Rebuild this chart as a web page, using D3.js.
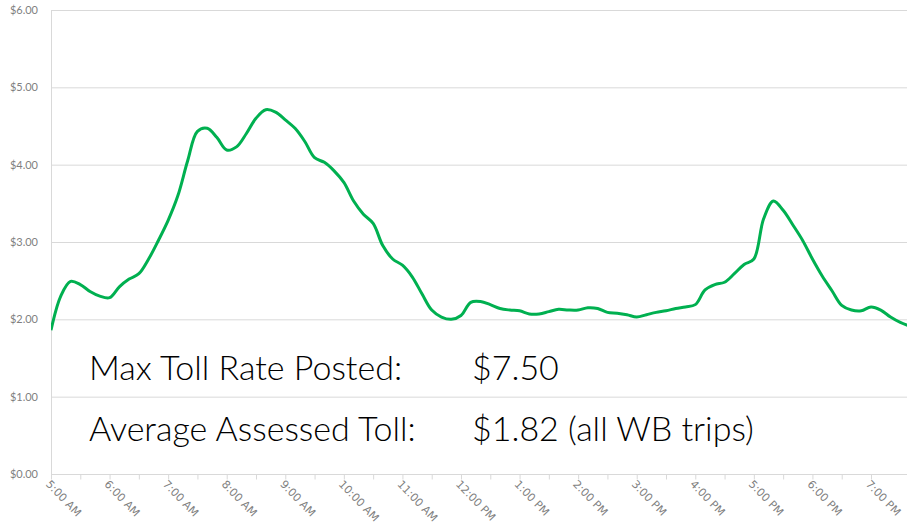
<!DOCTYPE html>
<html>
<head>
<meta charset="utf-8">
<script src="https://cdn.jsdelivr.net/npm/d3@7"></script>
<style>
    html, body { margin: 0; padding: 0; background: #fff; }
    svg { display: block; }
</style>
</head>
<body>
<div id="chart"></div>
<script>
(function () {

const [WIDTH, HEIGHT] = [907, 529];

const MARGIN = { top: 10, right: 0, bottom: 55, left: 51 };

// toll samples, every 10 minutes starting 5:00 AM
const START_TIME = '05:00';
const STEP_MINUTES = 10;
const tollValues = [
    1.86, 2.30, 2.49, 2.45, 2.36, 2.30, 2.28, 2.42, 2.52, 2.59,
    2.78, 3.02, 3.28, 3.60, 4.05, 4.43, 4.47, 4.35, 4.19, 4.23,
    4.40, 4.60, 4.71, 4.68, 4.58, 4.47, 4.30, 4.09, 4.03, 3.92,
    3.77, 3.53, 3.36, 3.24, 2.95, 2.78, 2.70, 2.55, 2.33, 2.12,
    2.03, 2.00, 2.05, 2.22, 2.23, 2.19, 2.14, 2.12, 2.11, 2.07,
    2.07, 2.10, 2.13, 2.12, 2.12, 2.15, 2.14, 2.09, 2.08, 2.06,
    2.03, 2.06, 2.09, 2.11, 2.14, 2.16, 2.19, 2.38, 2.45, 2.48,
    2.59, 2.71, 2.78, 3.30, 3.53, 3.41, 3.22, 3.02, 2.78, 2.56,
    2.37, 2.18, 2.12, 2.11, 2.16, 2.12, 2.03, 1.96, 1.91,
];

const xTickLabels = [
    '5:00 AM', '6:00 AM', '7:00 AM', '8:00 AM', '9:00 AM', '10:00 AM',
    '11:00 AM', '12:00 PM', '1:00 PM', '2:00 PM', '3:00 PM', '4:00 PM',
    '5:00 PM', '6:00 PM', '7:00 PM',
];

const yTicks = [0, 1, 2, 3, 4, 5, 6];

const notes = [
    ['Max Toll Rate Posted:', '$7.50'],
    ['Average Assessed Toll:', '$1.82 (all WB trips)'],
];

const parseTime = d3.timeParse('%H:%M');

function buildSeries() {
    const start = parseTime(START_TIME);
    return tollValues.map((v, i) => ({
        time: d3.timeMinute.offset(start, i * STEP_MINUTES),
        value: v,
    }))
}

function render(selector) {
    const series = buildSeries();
    const innerW = WIDTH - MARGIN.left - MARGIN.right;
    const innerH = HEIGHT - MARGIN.top - MARGIN.bottom;

    // hour spacing: 5:00 AM at plot left, 7:00 PM at 820px in
    const x = d3.scaleTime()
        .domain([parseTime('05:00'), parseTime('19:00')])
        .range([0, 820]);

    const y = d3.scaleLinear()
        .domain([0, 6])
        .range([innerH, 0]);

    const svg = d3.select(selector).append('svg')
        .attr('width', WIDTH)
        .attr('height', HEIGHT)
        .attr('viewBox', `0 0 ${WIDTH} ${HEIGHT}`);

    svg.append('defs').append('clipPath')
        .attr('id', 'plot-clip')
        .append('rect')
        .attr('x', 0)
        .attr('y', -10)
        .attr('width', innerW)
        .attr('height', innerH + 20);

    const g = svg.append('g')
        .attr('transform', `translate(${MARGIN.left}, ${MARGIN.top})`);

    // gridlines
    g.append('g')
        .selectAll('line')
        .data(yTicks)
        .enter()
        .append('line')
        .attr('x1', 0)
        .attr('x2', innerW)
        .attr('y1', (d) => y(d) + 0.5)
        .attr('y2', (d) => y(d) + 0.5)
        .attr('stroke', '#d9d9d9')
        .attr('stroke-width', 1);

    // y labels
    g.append('g')
        .selectAll('text')
        .data(yTicks)
        .enter()
        .append('text')
        .attr('x', -13)
        .attr('y', (d) => y(d))
        .attr('dy', '0.35em')
        .attr('text-anchor', 'end')
        .attr('font-family', 'Lato, "Liberation Sans", sans-serif')
        .attr('font-size', 11)
        .attr('fill', '#7f7f7f')
        .text((d) => '$' + d3.format('.2f')(d));

    // y axis line
    g.append('line')
        .attr('x1', 0.5).attr('x2', 0.5)
        .attr('y1', 0).attr('y2', innerH)
        .attr('stroke', '#d9d9d9');

    // x axis: ticks every 30 minutes, labels every hour
    const xAxis = d3.axisBottom(x)
        .ticks(d3.timeMinute.every(30))
        .tickSize(5)
        .tickFormat('');

    const xg = g.append('g')
        .attr('transform', `translate(0, ${innerH + 0.5})`)
        .call(xAxis);
    xg.select('.domain')
        .attr('d', `M0,0H${innerW}`)
        .attr('stroke', '#d9d9d9');
    xg.selectAll('.tick line').attr('stroke', '#d9d9d9');

    const hourTicks = x.ticks(d3.timeHour.every(1));
    g.append('g')
        .selectAll('text')
        .data(hourTicks)
        .enter()
        .append('text')
        .attr('transform', (d) => `translate(${x(d) - 3}, ${innerH + 8}) rotate(46)`)
        .attr('dy', '0.35em')
        .attr('text-anchor', 'start')
        .attr('font-family', '"DejaVu Sans", sans-serif')
        .attr('font-size', 11)
        .attr('fill', '#7f7f7f')
        .text((d, i) => xTickLabels[i]);

    // toll line
    const line = d3.line()
        .x((d) => x(d.time))
        .y((d) => y(d.value))
        .curve(d3.curveCatmullRom.alpha(0.5));

    g.append('path')
        .datum(series)
        .attr('clip-path', 'url(#plot-clip)')
        .attr('fill', 'none')
        .attr('stroke', '#00b050')
        .attr('stroke-width', 3)
        .attr('stroke-linejoin', 'round')
        .attr('d', line);

    // annotation text
    const noteRows = svg.append('g')
        .selectAll('g')
        .data(notes)
        .enter()
        .append('g')
        .attr('font-family', 'Lato, "Noto Sans", sans-serif')
        .attr('font-weight', 300)
        .attr('font-size', 34)
        .attr('fill', '#000');

    noteRows.append('text')
        .attr('x', 89)
        .attr('y', (d, i) => 380 + i * 61)
        .text((d) => d[0]);

    noteRows.append('text')
        .attr('x', 472)
        .attr('y', (d, i) => 380 + i * 61)
        .text((d) => d[1]);
}

render('#chart');

})();
</script>
</body>
</html>
